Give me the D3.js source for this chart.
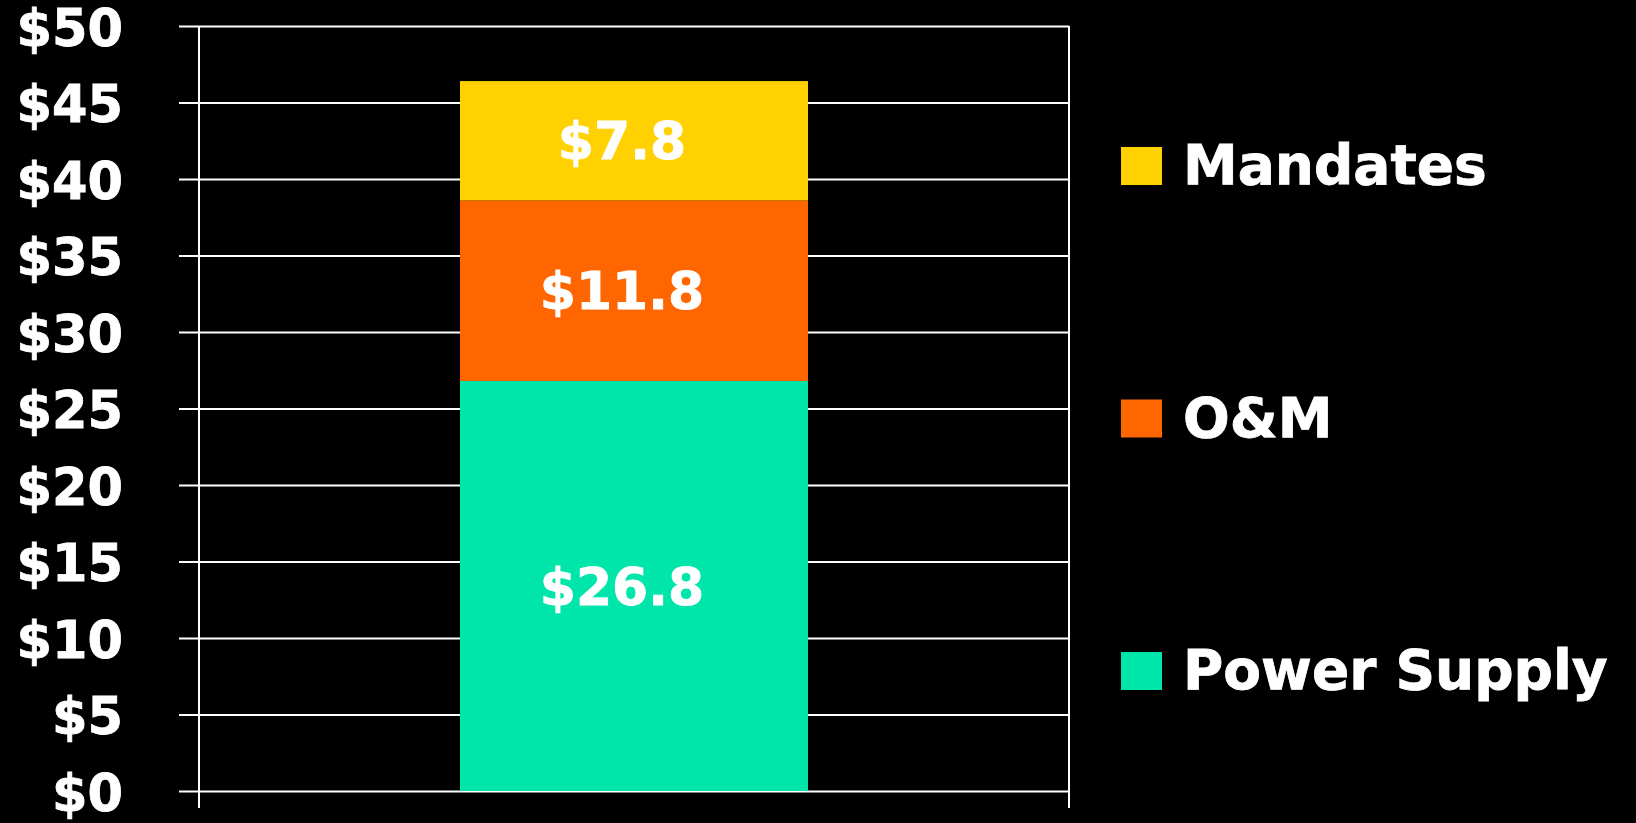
<!DOCTYPE html>
<html>
<head>
<meta charset="utf-8">
<script src="https://cdn.jsdelivr.net/npm/d3@7"></script>
<style>
  body { margin: 0; background: #000; }
  text { font-family: "DejaVu Sans", Verdana, sans-serif; font-weight: bold; fill: #fff; stroke: #fff; stroke-width: 0.8px; }
</style>
</head>
<body>
<svg id="container" width="1636" height="823"></svg>
<script>
let width = 1636,
    height = 823;

// data
let categories = ["Total"]
let seriesNames = ["Power Supply", "O&M", "Mandates"]
let seriesValues = [26.8, 11.8, 7.8]
let seriesColors = ["#00e5aa", "#ff6600", "#ffd100"]
let yTicks = [0, 5, 10, 15, 20, 25, 30, 35, 40, 45, 50]

let svg = d3.select("#container")

let plotLeft = 199,
    plotRight = 1069,
    plotTop = 26,
    plotBottom = 791

let xScale = d3.scaleBand()
    .domain(categories)
    .range([plotLeft, plotRight])
    .paddingInner(0)
    .paddingOuter(0.75)

let yScale = d3.scaleLinear()
    .domain([0, 50])
    .range([plotBottom, plotTop])

// gridlines + y axis
let yAxis = svg.append("g")
    .attr("transform", "translate(" + plotLeft + ",0)")
    .call(d3.axisLeft(yScale)
        .tickValues(yTicks)
        .tickSize(-(plotRight - plotLeft))
        .tickFormat(d => "$" + d))

yAxis.select(".domain").remove()
yAxis.selectAll(".tick line")
    .attr("x1", -20)
    .attr("stroke", "#fff")
    .attr("stroke-width", 2)
yAxis.selectAll(".tick text")
    .attr("x", -76)
    .attr("dy", "0.38em")
    .attr("fill", "#fff")
    .style("font-size", "51px")
    .style("font-family", "'DejaVu Sans', Verdana, sans-serif")
    .style("font-weight", "bold")

// vertical frame lines (extend below the zero line like category ticks)
svg.append("g")
    .selectAll("line")
    .data(xScale.range())
    .enter()
    .append("line")
    .attr("x1", d => d)
    .attr("x2", d => d)
    .attr("y1", plotTop)
    .attr("y2", plotBottom + 17)
    .attr("stroke", "#fff")
    .attr("stroke-width", 2)

// stacked segments
let stacked = []
let acc = 0
seriesValues.forEach(function(v, i) {
    stacked.push({ name: seriesNames[i], value: v, y0: acc, y1: acc + v, color: seriesColors[i] })
    acc += v
})

let bars = svg.append("g")
bars.selectAll("rect")
    .data(stacked)
    .enter()
    .append("rect")
    .attr("x", xScale(categories[0]))
    .attr("width", xScale.bandwidth())
    .attr("y", d => yScale(d.y1))
    .attr("height", d => yScale(d.y0) - yScale(d.y1))
    .attr("fill", d => d.color)

bars.selectAll("text")
    .data(stacked)
    .enter()
    .append("text")
    .attr("x", xScale(categories[0]) + xScale.bandwidth() / 2 - 12)
    .attr("y", d => (yScale(d.y0) + yScale(d.y1)) / 2)
    .attr("dy", "0.36em")
    .attr("text-anchor", "middle")
    .style("font-size", "52px")
    .text(d => "$" + d.value.toFixed(1))

// legend, top to bottom is reverse of stack
let legendData = stacked.slice().reverse()
let legend = svg.append("g")
    .selectAll("g")
    .data(legendData)
    .enter()
    .append("g")
    .attr("transform", (d, i) => "translate(1121," + (147 + i * 252.5) + ")")

legend.append("rect")
    .attr("width", 41)
    .attr("height", 38)
    .attr("fill", d => d.color)

legend.append("text")
    .attr("x", 62)
    .attr("y", 37)
    .style("font-size", "55px")
    .text(d => d.name)
</script>
</body>
</html>
